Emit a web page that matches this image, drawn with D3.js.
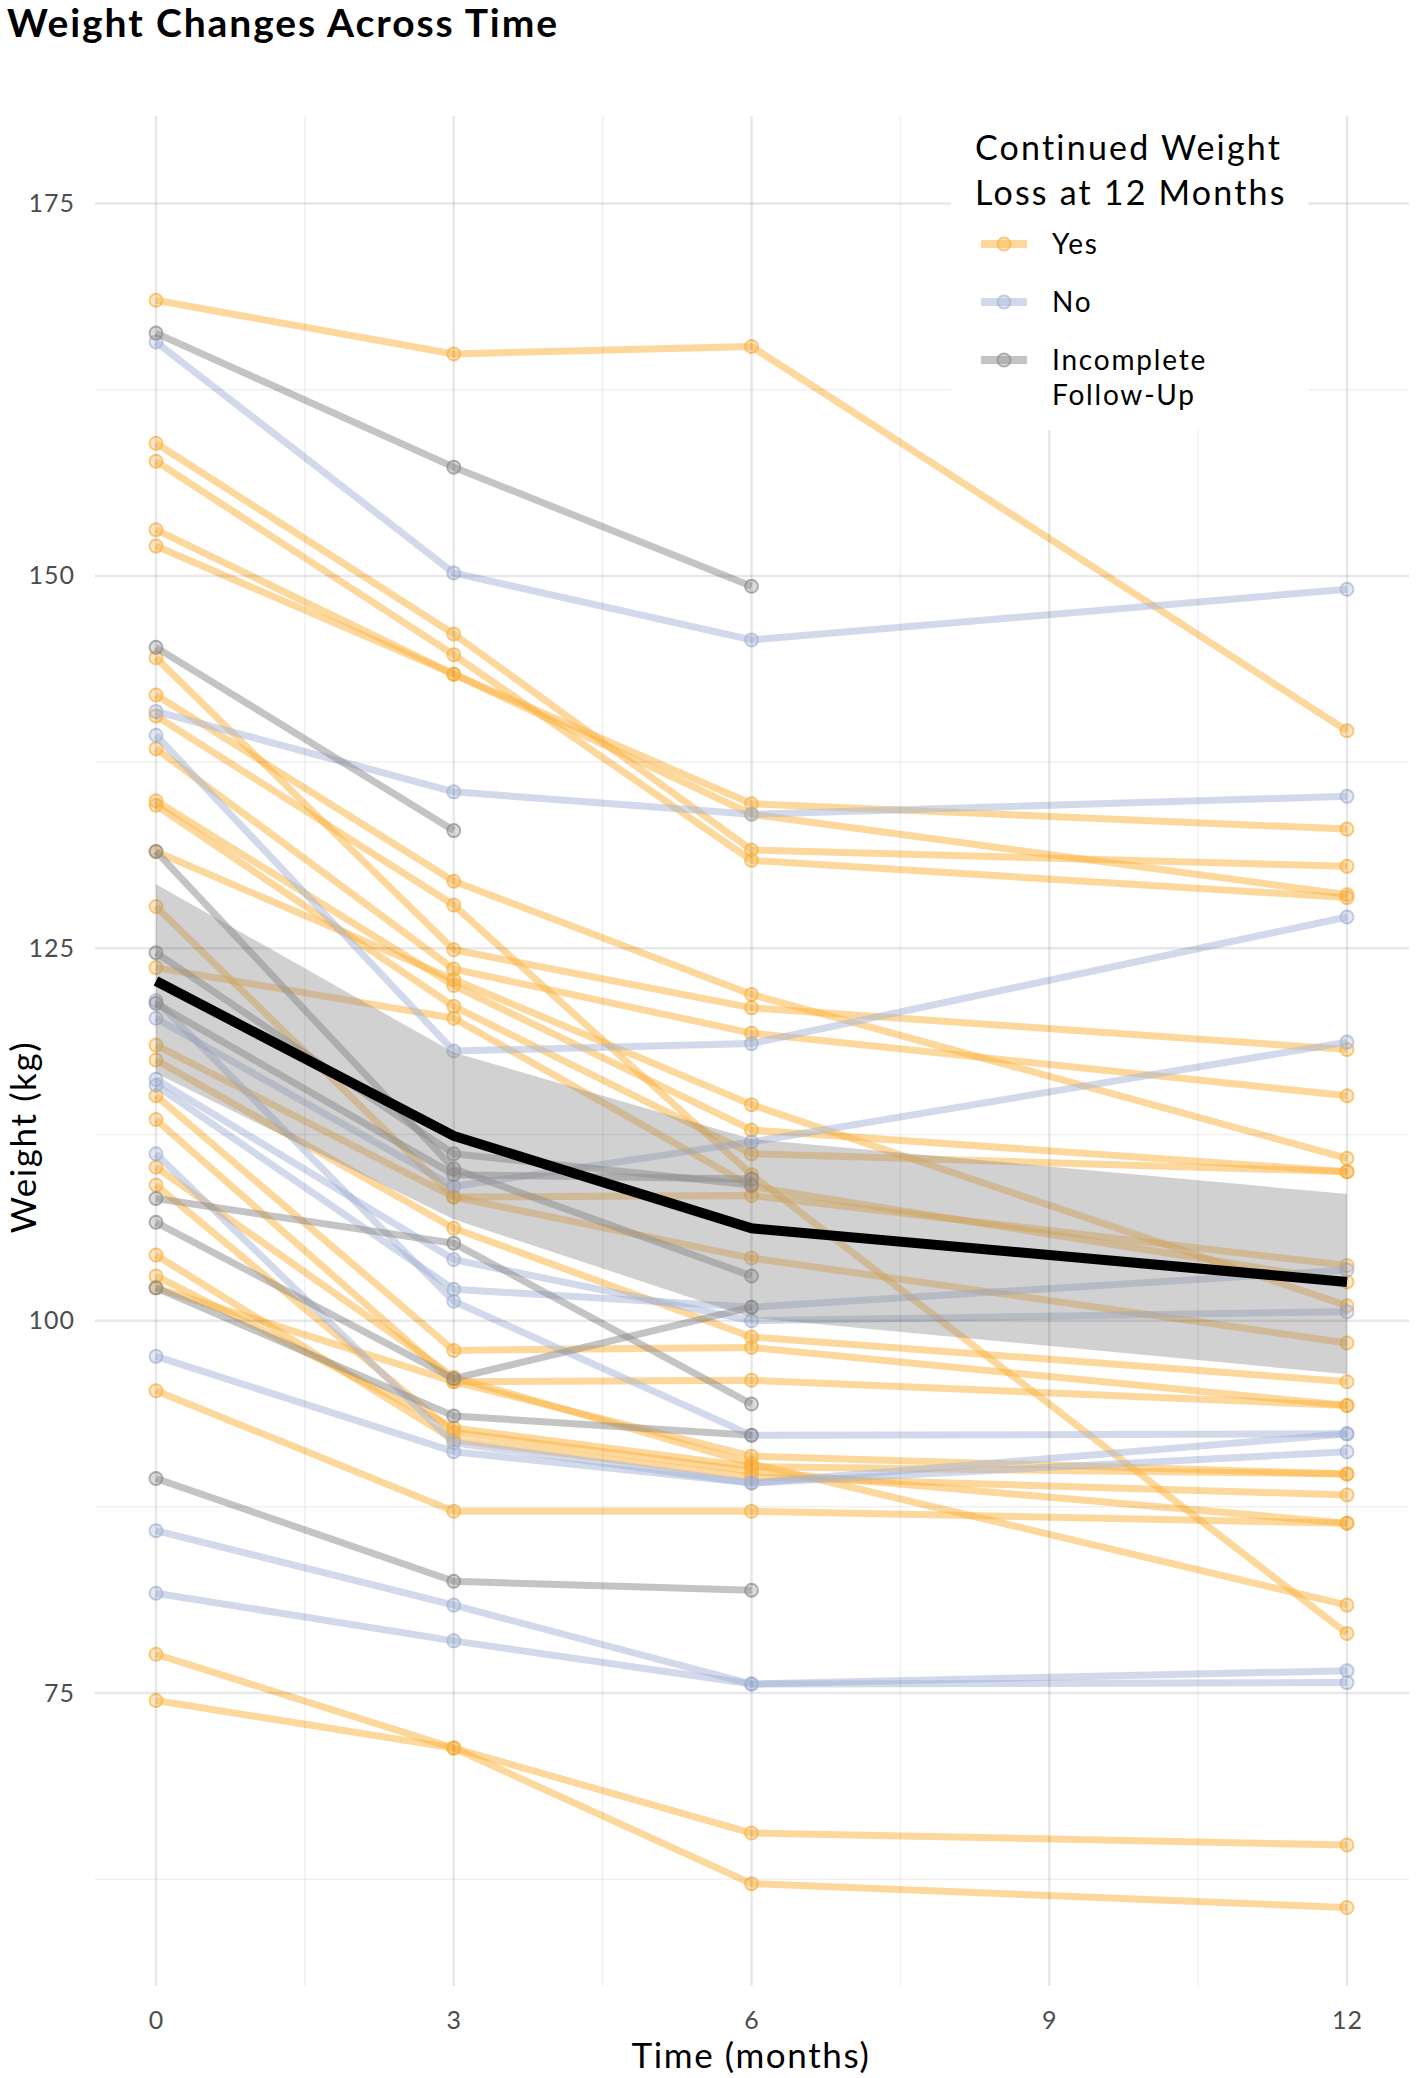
<!DOCTYPE html>
<html>
<head>
<meta charset="utf-8">
<script src="https://cdn.jsdelivr.net/npm/d3@7"></script>
<style>
  body { margin: 0; background: #fff; }
  text { font-family: Lato, "Open Sans", sans-serif; }
</style>
</head>
<body>
<div id="chart"></div>
<script>
// time points (months)
var months = [0, 3, 6, 12];

// weights per subject (kg at 0, 3, 6, 12 months)
var yesSubjects = [
  [168.5, 164.9, 165.4, 139.6],
  [158.9, 146.1, 131.6, 130.5],
  [157.7, 144.7, 130.9, 128.4],
  [153.1, 143.4, 134.7, 133.0],
  [152.0, 143.4, 134.0, 128.6],
  [144.5, 124.9, 121.0, 118.2],
  [142.0, 129.5, 121.9, 110.9],
  [140.6, 127.9, 109.8, 79.0],
  [138.4, 123.6, 119.3, 115.1],
  [134.9, 122.5, 112.8, 110.0],
  [134.6, 121.1, 111.2, 110.0],
  [131.5, 122.9, 114.5, 101.0],
  [127.8, 108.3, 108.4, 103.7],
  [123.7, 120.3, 109.0, 102.6],
  [118.5, 108.3, 104.2, 98.5],
  [117.5, 106.2, 98.9, 95.9],
  [115.1, 98.0, 98.2, 94.3],
  [113.5, 95.9, 90.9, 89.7],
  [110.3, 96.2, 90.4, 80.9],
  [109.1, 92.5, 89.9, 86.4],
  [104.4, 92.0, 89.5, 88.3],
  [103.0, 92.8, 90.2, 89.7],
  [102.2, 95.9, 96.0, 94.3],
  [95.3, 87.2, 87.2, 86.4],
  [77.6, 71.3, 65.6, 64.8],
  [74.5, 71.3, 62.2, 60.6]
];

var noSubjects = [
  [165.7, 150.2, 145.7, 149.1],
  [140.9, 135.5, 134.0, 135.2],
  [139.3, 118.1, 118.6, 127.1],
  [120.3, 109.0, 112.0, 118.7],
  [116.2, 104.1, 100.0, 100.6],
  [115.8, 102.1, 100.9, 103.4],
  [111.2, 91.8, 89.1, 91.2],
  [97.6, 91.2, 89.1, 92.4],
  [121.5, 101.3, 92.3, 92.4],
  [85.9, 80.9, 75.6, 76.5],
  [81.7, 78.5, 75.6, 75.7]
];

var incompleteSubjects = [
  [166.3, 157.3, 149.3],
  [145.2, 132.9],
  [131.5, 110.2, 103.0],
  [124.7, 111.2, 109.1],
  [121.3, 109.8, 109.5],
  [108.2, 105.2, 94.4],
  [106.6, 96.1, 100.9],
  [102.2, 93.6, 92.3],
  [89.4, 82.5, 81.9]
];

// overall mean and 95% band
var meanWeight = [122.8, 112.4, 106.2, 102.6];
var ciLower = [116.6, 106.8, 100.2, 96.4];
var ciUpper = [129.3, 118.0, 112.2, 108.5];

var xTicks = [0, 3, 6, 9, 12];
var xMinor = [1.5, 4.5, 7.5, 10.5];
var yTicks = [75, 100, 125, 150, 175];
var yMinor = [62.5, 87.5, 112.5, 137.5, 162.5];

var groups = [
  { key: "Yes", label: ["Yes"], color: "#fbb13c", data: yesSubjects },
  { key: "No", label: ["No"], color: "#a3b4d6", data: noSubjects },
  { key: "Incomplete", label: ["Incomplete", "Follow-Up"], color: "#8a8a8a", data: incompleteSubjects }
];

var W = 1418, H = 2078;
var panel = { left: 95, right: 1409, top: 116, bottom: 1986 };

var x = d3.scaleLinear().domain([0, 12]).range([156, 1347]);
var y = d3.scaleLinear().domain([75, 175]).range([1693, 203.5]);

var svg = d3.select("#chart").append("svg")
  .attr("width", W)
  .attr("height", H);

// title
svg.append("text")
  .attr("x", 7)
  .attr("y", 37)
  .style("font-size", "39px")
  .style("font-weight", "700")
  .style("letter-spacing", "1.9px")
  .attr("fill", "#000")
  .text("Weight Changes Across Time");

var plot = svg.append("g");

var line = d3.line()
  .x(function (d, i) { return x(months[i]); })
  .y(function (d) { return y(d); });

// subject lines
groups.forEach(function (g) {
  var wrap = plot.append("g").attr("class", "group-" + g.key);
  wrap.selectAll("path")
    .data(g.data)
    .enter().append("path")
    .attr("d", line)
    .attr("fill", "none")
    .attr("stroke", g.color)
    .attr("stroke-opacity", 0.5)
    .attr("stroke-width", 7)
    .attr("stroke-linejoin", "round");

  wrap.selectAll(".pt")
    .data(g.data.flatMap(function (s) { return s.map(function (v, i) { return [months[i], v]; }); }))
    .enter().append("circle")
    .attr("class", "pt")
    .attr("cx", function (d) { return x(d[0]); })
    .attr("cy", function (d) { return y(d[1]); })
    .attr("r", 6.5)
    .attr("fill", g.color)
    .attr("fill-opacity", 0.3)
    .attr("stroke", g.color)
    .attr("stroke-opacity", 0.65)
    .attr("stroke-width", 2);
});

// confidence band
var area = d3.area()
  .x(function (d, i) { return x(months[i]); })
  .y0(function (d, i) { return y(ciLower[i]); })
  .y1(function (d, i) { return y(ciUpper[i]); });

plot.append("path")
  .datum(meanWeight)
  .attr("d", area)
  .attr("fill", "#8c8c8c")
  .attr("fill-opacity", 0.4);

plot.append("path")
  .datum(meanWeight)
  .attr("d", line)
  .attr("fill", "none")
  .attr("stroke", "#000")
  .attr("stroke-width", 10);

// grid on top, translucent
var grid = svg.append("g");
grid.selectAll(".ymin").data(yMinor).enter().append("line")
  .attr("x1", panel.left).attr("x2", panel.right)
  .attr("y1", function (d) { return y(d); }).attr("y2", function (d) { return y(d); })
  .attr("stroke", "#000").attr("stroke-opacity", 0.06).attr("stroke-width", 1.5);
grid.selectAll(".ymaj").data(yTicks).enter().append("line")
  .attr("x1", panel.left).attr("x2", panel.right)
  .attr("y1", function (d) { return y(d); }).attr("y2", function (d) { return y(d); })
  .attr("stroke", "#000").attr("stroke-opacity", 0.09).attr("stroke-width", 2.5);
grid.selectAll(".xmin").data(xMinor).enter().append("line")
  .attr("y1", panel.top).attr("y2", panel.bottom)
  .attr("x1", function (d) { return x(d); }).attr("x2", function (d) { return x(d); })
  .attr("stroke", "#000").attr("stroke-opacity", 0.06).attr("stroke-width", 1.5);
grid.selectAll(".xmaj").data(xTicks).enter().append("line")
  .attr("y1", panel.top).attr("y2", panel.bottom)
  .attr("x1", function (d) { return x(d); }).attr("x2", function (d) { return x(d); })
  .attr("stroke", "#000").attr("stroke-opacity", 0.09).attr("stroke-width", 2.5);

// axes (no domain lines, no ticks)
var yAxis = svg.append("g")
  .attr("transform", "translate(" + (panel.left - 20) + ",0)")
  .call(d3.axisLeft(y).tickValues(yTicks).tickSize(0).tickPadding(0));
var xAxis = svg.append("g")
  .attr("transform", "translate(0," + (panel.bottom + 20) + ")")
  .call(d3.axisBottom(x).tickValues(xTicks).tickSize(0).tickPadding(0));
[yAxis, xAxis].forEach(function (a) {
  a.select(".domain").remove();
  a.selectAll("text")
    .style("font-family", "Lato, sans-serif")
    .style("font-size", "25px")
    .style("font-weight", "400")
    .style("letter-spacing", "1px")
    .attr("fill", "#4d4d4d");
});
xAxis.selectAll("text").attr("dy", "0.9em");

svg.append("text")
  .attr("transform", "translate(36,1137) rotate(-90)")
  .attr("text-anchor", "middle")
  .style("font-size", "35px")
  .style("letter-spacing", "1.6px")
  .attr("fill", "#000")
  .text("Weight (kg)");

svg.append("text")
  .attr("x", 751)
  .attr("y", 2068)
  .attr("text-anchor", "middle")
  .style("font-size", "35px")
  .style("letter-spacing", "1.6px")
  .attr("fill", "#000")
  .text("Time (months)");

// legend
var legend = svg.append("g");
legend.append("rect")
  .attr("x", 951).attr("y", panel.top - 2)
  .attr("width", 357).attr("height", 316)
  .attr("fill", "#fff");
legend.append("text")
  .attr("x", 975).attr("y", 160)
  .style("font-size", "34px")
  .style("letter-spacing", "2.2px")
  .attr("fill", "#000")
  .selectAll("tspan")
  .data(["Continued Weight", "Loss at 12 Months"])
  .enter().append("tspan")
  .attr("x", 975)
  .attr("dy", function (d, i) { return i ? 45 : 0; })
  .text(function (d) { return d; });

var keyY = [244, 302, 360];
groups.forEach(function (g, i) {
  var k = legend.append("g").attr("transform", "translate(0," + keyY[i] + ")");
  k.append("line")
    .attr("x1", 981).attr("x2", 1027)
    .attr("stroke", g.color).attr("stroke-opacity", 0.5).attr("stroke-width", 8);
  k.append("circle")
    .attr("cx", 1004).attr("r", 6.5)
    .attr("fill", g.color).attr("fill-opacity", 0.3)
    .attr("stroke", g.color).attr("stroke-opacity", 0.65).attr("stroke-width", 2);
  k.append("text")
    .attr("x", 1052).attr("dy", "0.35em")
    .style("font-size", "28px")
    .style("letter-spacing", "1.8px")
    .attr("fill", "#000")
    .selectAll("tspan")
    .data(g.label)
    .enter().append("tspan")
    .attr("x", 1052)
    .attr("dy", function (d, j) { return j ? 35 : "0.35em"; })
    .text(function (d) { return d; });
});
</script>
</body>
</html>
